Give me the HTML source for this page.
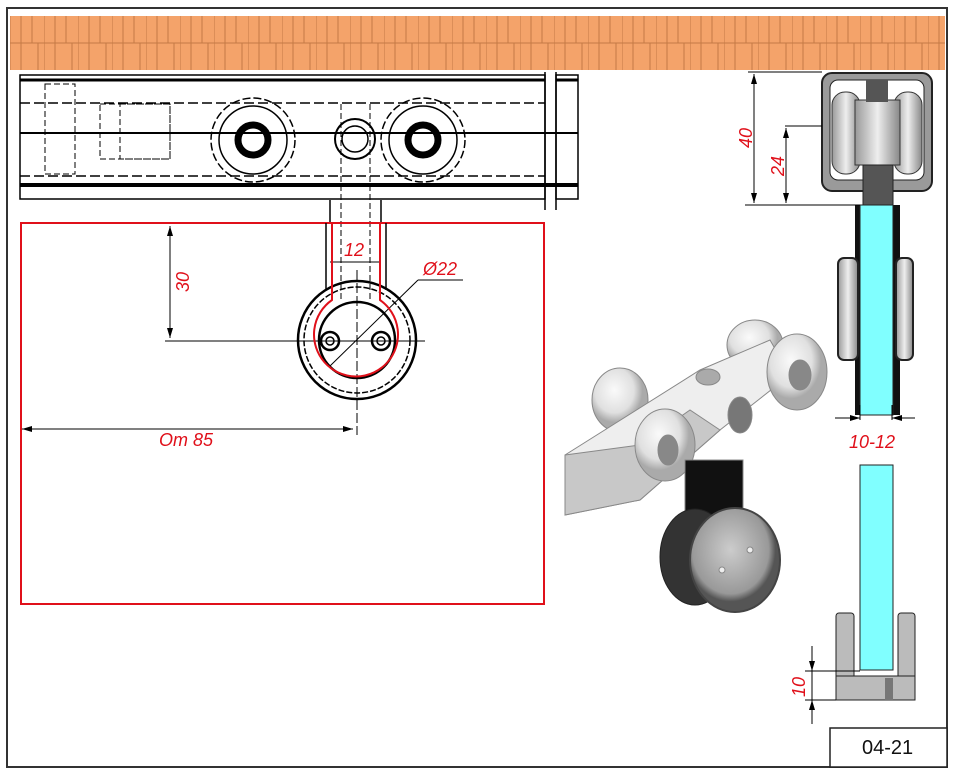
<!DOCTYPE html>
<html><head><meta charset="utf-8"><style>
html,body{margin:0;padding:0;background:#fff}
svg{display:block}
text{font-family:"Liberation Sans",sans-serif}
</style></head><body>
<svg width="957" height="770" viewBox="0 0 957 770" xmlns="http://www.w3.org/2000/svg">
<defs>
<pattern id="brick" x="10" y="16" width="34" height="54" patternUnits="userSpaceOnUse">
<rect width="34" height="54" fill="#f4a36a"/>
<path d="M0 0V54M11 0V54M22 0V27M28 27V54M0 27H34" stroke="#c47a45" stroke-width="1" fill="none"/>
</pattern>
<linearGradient id="gw" x1="0" x2="1"><stop offset="0" stop-color="#999"/><stop offset=".5" stop-color="#eee"/><stop offset="1" stop-color="#888"/></linearGradient>
<radialGradient id="wh" cx=".4" cy=".35"><stop offset="0" stop-color="#fafafa"/><stop offset=".7" stop-color="#e0e0e0"/><stop offset="1" stop-color="#aaa"/></radialGradient>
<radialGradient id="disc" cx=".45" cy=".4"><stop offset="0" stop-color="#ccc"/><stop offset=".85" stop-color="#999"/><stop offset="1" stop-color="#555"/></radialGradient>
</defs>
<rect x="7" y="8" width="940" height="759" fill="#fff" stroke="#333" stroke-width="2"/>
<rect x="10" y="16" width="935" height="54" fill="url(#brick)"/>

<!-- rail -->
<g stroke="#000" fill="none">
<rect x="20" y="75" width="525" height="124" stroke-width="1.5"/>
<rect x="556" y="75" width="22" height="124" stroke-width="1.5"/>
<line x1="20" y1="80" x2="545" y2="80" stroke-width="3"/>
<line x1="556" y1="80" x2="578" y2="80" stroke-width="3"/>
<line x1="20" y1="133" x2="578" y2="133" stroke-width="2"/>
<line x1="20" y1="185" x2="578" y2="185" stroke-width="4"/>
<line x1="20" y1="103" x2="545" y2="103" stroke-width="1.5" stroke-dasharray="10,4"/>
<line x1="20" y1="176" x2="545" y2="176" stroke-width="1.5" stroke-dasharray="10,4"/>
<rect x="100" y="104" width="70" height="55" stroke-dasharray="6,3"/>
<rect x="120" y="104" width="50" height="55" stroke-dasharray="6,3"/>
<rect x="45" y="84" width="30" height="90" stroke-dasharray="6,3"/>
<line x1="545" y1="72" x2="545" y2="210" stroke-width="1.5"/>
<line x1="556" y1="72" x2="556" y2="210" stroke-width="1.5"/>
<circle cx="253" cy="140" r="42" stroke-width="1.5" stroke-dasharray="8,3"/>
<circle cx="253" cy="140" r="34" stroke-width="1.5"/>
<circle cx="253" cy="140" r="15" stroke-width="7"/>
<circle cx="423" cy="140" r="42" stroke-width="1.5" stroke-dasharray="8,3"/>
<circle cx="423" cy="140" r="34" stroke-width="1.5"/>
<circle cx="423" cy="140" r="15" stroke-width="7"/>
<circle cx="355" cy="139" r="20" stroke-width="2"/>
<circle cx="355" cy="139" r="13" stroke-width="1.5"/>
<line x1="341" y1="104" x2="341" y2="300" stroke-dasharray="6,3"/>
<line x1="370" y1="104" x2="370" y2="300" stroke-dasharray="6,3"/>
<line x1="330" y1="200" x2="330" y2="222" stroke-width="1.5"/>
<line x1="381" y1="200" x2="381" y2="222" stroke-width="1.5"/>
</g>

<!-- red box and plan -->
<rect x="21" y="223" width="523" height="381" fill="none" stroke="#e0101a" stroke-width="2"/>
<g fill="none" stroke="#000">
<line x1="326" y1="223" x2="326" y2="290" stroke-width="1.5"/>
<line x1="386" y1="223" x2="386" y2="290" stroke-width="1.5"/>
<circle cx="357" cy="340" r="59" stroke-width="2.5"/>
<circle cx="357" cy="340" r="53" stroke-width="1.5" stroke-dasharray="6,2"/>
<circle cx="357" cy="340" r="38" stroke-width="2.5"/>
<circle cx="330" cy="341" r="9" stroke-width="2.5"/>
<circle cx="330" cy="341" r="4" stroke-width="1.5"/>
<circle cx="381" cy="341" r="9" stroke-width="2.5"/>
<circle cx="381" cy="341" r="4" stroke-width="1.5"/>
<line x1="357" y1="270" x2="357" y2="435" stroke-dasharray="10,3"/>
<line x1="165" y1="341" x2="425" y2="341"/>
<line x1="330" y1="262" x2="380" y2="262"/>
<line x1="170" y1="226" x2="170" y2="338"/>
<line x1="22" y1="429" x2="353" y2="429"/>
<line x1="330" y1="366" x2="418" y2="280"/>
<line x1="418" y1="280" x2="463" y2="280"/>
</g>
<g fill="#000">
<path d="M170 226l-3 10h6z M170 338l-3-10h6z M353 429l-10-3v6z M22 429l10-3v6z"/>
</g>
<path d="M332 223V300 A42 42 0 1 0 380 300V223" fill="none" stroke="#e0101a" stroke-width="2"/>
<g fill="#e0101a" font-style="italic" font-size="18">
<text x="344" y="256">12</text>
<text x="423" y="275">Ø22</text>
<text x="159" y="446">Om 85</text>
<text transform="translate(189,292) rotate(-90)">30</text>
</g>

<!-- right section -->
<g>
<rect x="822" y="73" width="110" height="118" rx="10" fill="#9a9a9a" stroke="#222" stroke-width="2"/>
<rect x="830" y="80" width="94" height="100" rx="8" fill="#fff" stroke="#222"/>
<rect x="832" y="92" width="28" height="82" rx="13" fill="url(#gw)" stroke="#333"/>
<rect x="894" y="92" width="28" height="82" rx="13" fill="url(#gw)" stroke="#333"/>
<rect x="855" y="100" width="45" height="65" fill="url(#gw)" stroke="#333"/>
<rect x="863" y="165" width="30" height="40" fill="#555" stroke="#222"/>
<rect x="866" y="80" width="22" height="22" fill="#555"/>
<rect x="855" y="205" width="45" height="210" fill="#111"/>
<rect x="838" y="258" width="20" height="102" rx="6" fill="url(#gw)" stroke="#222" stroke-width="2"/>
<rect x="896" y="258" width="17" height="102" rx="6" fill="url(#gw)" stroke="#222" stroke-width="2"/>
<rect x="860" y="205" width="33" height="210" fill="#80ffff" stroke="#222"/>
<rect x="860" y="465" width="33" height="205" fill="#80ffff" stroke="#222"/>
<rect x="836" y="613" width="18" height="80" rx="3" fill="#bbb" stroke="#222"/>
<rect x="898" y="613" width="17" height="80" rx="3" fill="#bbb" stroke="#222"/>
<rect x="836" y="676" width="79" height="24" fill="#bbb" stroke="#222"/>
<rect x="885" y="678" width="8" height="22" fill="#777"/>
</g>
<g stroke="#000" fill="none">
<line x1="748" y1="72" x2="822" y2="72"/>
<line x1="745" y1="205" x2="860" y2="205"/>
<line x1="785" y1="126" x2="822" y2="126"/>
<line x1="754" y1="74" x2="754" y2="203"/>
<line x1="786" y1="128" x2="786" y2="203"/>
<line x1="860" y1="405" x2="860" y2="420"/><line x1="892" y1="405" x2="892" y2="420"/>
<line x1="835" y1="418" x2="860" y2="418"/><line x1="892" y1="418" x2="915" y2="418"/>
<line x1="805" y1="671" x2="860" y2="671"/><line x1="805" y1="700" x2="836" y2="700"/>
<line x1="812" y1="646" x2="812" y2="724"/>
</g>
<g fill="#000"><path d="M754 74l-3 10h6z M754 203l-3-10h6z M786 128l-3 10h6z M786 203l-3-10h6z M860 418l-10-3v6z M892 418l10-3v6z M812 671l-3-10h6z M812 700l-3 10h6z"/></g>
<g fill="#e0101a" font-style="italic" font-size="18">
<text transform="translate(752,148) rotate(-90)">40</text>
<text transform="translate(784,176) rotate(-90)">24</text>
<text x="849" y="448">10-12</text>
<text transform="translate(805,697) rotate(-90)">10</text>
</g>

<!-- 3D render approx -->
<g stroke="#888">
<ellipse cx="620" cy="400" rx="28" ry="32" fill="url(#wh)"/>
<ellipse cx="755" cy="345" rx="28" ry="25" fill="url(#wh)"/>
<path d="M565 455 L700 370 L770 340 L790 375 L720 430 L640 500 L565 515Z" fill="#eeeeee"/>
<path d="M565 455 L640 445 L690 410 L720 430 L640 500 L565 515Z" fill="#c8c8c8"/>
<ellipse cx="740" cy="415" rx="12" ry="18" fill="#777"/>
<ellipse cx="708" cy="377" rx="12" ry="8" fill="#aaa"/>
<ellipse cx="797" cy="372" rx="30" ry="38" fill="url(#wh)"/>
<ellipse cx="800" cy="375" rx="11" ry="15" fill="#888"/>
<ellipse cx="665" cy="445" rx="30" ry="36" fill="url(#wh)"/>
<ellipse cx="668" cy="450" rx="10" ry="15" fill="#888"/>
<rect x="685" y="460" width="58" height="80" fill="#111"/>
<ellipse cx="695" cy="557" rx="35" ry="48" fill="#333" stroke="#222"/>
<ellipse cx="735" cy="560" rx="45" ry="52" fill="url(#disc)" stroke="#444" stroke-width="2"/>
<circle cx="722" cy="570" r="3" fill="#eee"/>
<circle cx="750" cy="550" r="3" fill="#eee"/>
</g>

<rect x="830" y="728" width="117" height="39" fill="#fff" stroke="#222" stroke-width="1.5"/>
<text x="862" y="754" font-size="20" fill="#111">04-21</text>
</svg>
</body></html>
